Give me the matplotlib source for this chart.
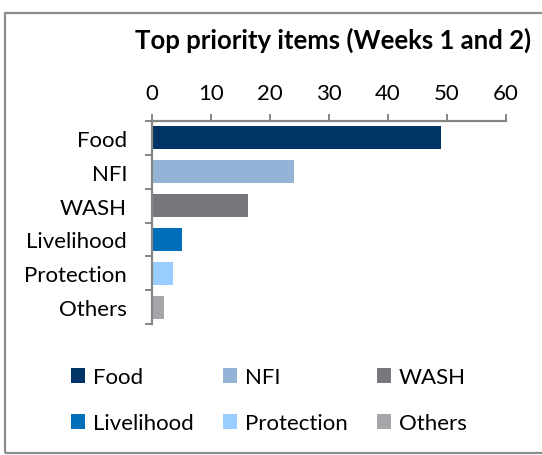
import matplotlib
matplotlib.use("Agg")
import matplotlib.pyplot as plt
from matplotlib.patches import Patch, Rectangle
import numpy as np

categories = ["Food", "NFI", "WASH", "Livelihood", "Protection", "Others"]
values = [49, 24, 16.3, 5.1, 3.5, 2]
colors = ["#003366", "#95B3D7", "#77787B", "#006EB8", "#99CCFF", "#A6A6AA"]
xticks = [0, 10, 20, 30, 40, 50, 60]
title = "Top priority items (Weeks 1 and 2)"

W, H = 542, 456
plt.rcParams["font.family"] = ["Lato", "DejaVu Sans"]
fig = plt.figure(figsize=(W / 100, H / 100), dpi=100)
fig.patch.set_facecolor("white")

# outer chart frame (open on the right)
fig.patches.append(Rectangle((4.5 / W, 1 - 454 / H), 2, (454 - 13.5) / H,
                             transform=fig.transFigure, fill=False,
                             edgecolor="#8C8C8C", linewidth=1.6))

ax = fig.add_axes([152 / W, 1 - 325 / H, (506 - 152) / W, (325 - 122) / H])
y = np.arange(len(categories))
ax.barh(y, values, height=0.68, color=colors)

ax.set_xlim(0, 60)
ax.set_ylim(len(categories) - 0.5, -0.5)
ax.xaxis.tick_top()
ax.set_xticks(xticks)
ax.set_xticklabels([str(t) for t in xticks])
ax.set_yticks(y)
ax.set_yticklabels(categories)
ax.set_yticks(np.arange(len(categories) + 1) - 0.5, minor=True)

axis_col = "#868686"
for side in ["right", "bottom"]:
    ax.spines[side].set_visible(False)
for side in ["left", "top"]:
    ax.spines[side].set_color(axis_col)
    ax.spines[side].set_linewidth(1.6)

ax.tick_params(axis="x", which="major", direction="out", length=5, width=1.4,
               color=axis_col, pad=8, labelsize=16, labelcolor="black")
ax.tick_params(axis="y", which="major", length=0, pad=18, labelsize=16,
               labelcolor="black")
ax.tick_params(axis="y", which="minor", direction="out", length=5, width=1.4,
               color=axis_col)

fig.text(333 / W, 1 - 40 / H, title, ha="center", va="center",
         fontsize=18.5, fontweight="bold")

order = [0, 3, 1, 4, 2, 5]
handles = [Patch(facecolor=colors[i], edgecolor="none") for i in order]
labels = [categories[i] for i in order]
fig.legend(handles, labels, ncol=3, loc="upper left",
           bbox_to_anchor=(71 / W, 1 - 368 / H), frameon=False,
           fontsize=16, handlelength=0.65, handleheight=0.65,
           handletextpad=0.35, columnspacing=1.3, labelspacing=1.17,
           borderaxespad=0, borderpad=0)

fig.savefig("out.png", dpi=100)
